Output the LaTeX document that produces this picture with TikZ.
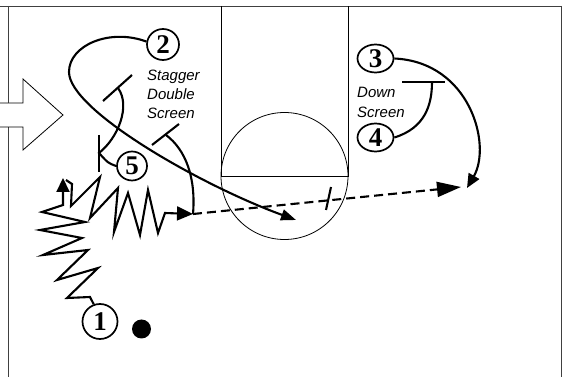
\documentclass[tikz,border=0pt]{standalone}
\usepackage{fontspec}
\setmainfont{Liberation Serif}
\setsansfont{Liberation Sans}
\usetikzlibrary{arrows.meta,shapes.geometric}
\begin{document}
\begin{tikzpicture}[x=1pt,y=-1pt,
  court/.style={line width=0.9pt, draw=black!75},
  thin/.style={line width=0.8pt, draw=black},
  player/.style={line width=2.1pt, draw=black},
  pass/.style={line width=2.1pt, draw=black, dash pattern=on 9pt off 5pt},
  num/.style={ellipse, draw=black, line width=1.7pt, fill=white, inner sep=0pt,
    font=\bfseries\fontsize{27}{27}\selectfont},
  lbl/.style={anchor=base west, inner sep=0pt, font=\sffamily\itshape\fontsize{15}{15}\selectfont},
  tipS/.style={-{Triangle[length=15pt,width=11pt]}},
]
\useasboundingbox (0,0) rectangle (566,377);
% court
\draw[court] (0,6) -- (561,6);
\draw[court] (8,6) -- (8,377);
\draw[court] (561,6) -- (561,377);
\draw[thin] (221,6) -- (221,176) -- (348,176) -- (348,6);
\draw[thin] (284.5,176) circle[radius=63.5];
% entry arrow
\draw[line width=0.8pt, fill=white] (-2,103) -- (23,103) -- (23,79) -- (63,115) -- (23,150) -- (23,127) -- (-2,127);
% coordinates
\coordinate (p2end) at (296,220);
\coordinate (s1a) at (103,101);
\coordinate (s1c) at (132,75);
\coordinate (s1b) at (118,88);
\coordinate (vb1) at (99,135);
\coordinate (vb2) at (99,172);
\coordinate (s2a) at (152,145);
\coordinate (s2c) at (179,124);
\coordinate (s2b) at (166,135);
\coordinate (d1end) at (63,178);
\coordinate (d2start) at (66,180);
\coordinate (d2end) at (193,214);
\coordinate (passend) at (461,187);
\coordinate (tk1) at (326,210);
\coordinate (tk2) at (331,187);
\coordinate (p3end) at (467,188);
\coordinate (s3a) at (402,82);
\coordinate (s3c) at (445,82);
\coordinate (s3b) at (432,82);
% players
\node[num, minimum width=35pt, minimum height=35pt] (c1) at (100,321.5) {1};
\node[num, minimum width=32pt, minimum height=31pt] (c2) at (163,44.5) {2};
\node[num, minimum width=36pt, minimum height=28pt] (c3) at (375.5,58.5) {3};
\node[num, minimum width=36pt, minimum height=28pt] (c4) at (375.5,137.5) {4};
\node[num, minimum width=30pt, minimum height=29pt] (c5) at (132,166) {5};
\node[circle, fill=black, minimum size=19pt, inner sep=0pt] (ball) at (141.5,329) {};
% labels
\node[lbl] (t1) at (147,80.5) {Stagger};
\node[lbl] (t2) at (147,99.5) {Double};
\node[lbl] (t3) at (147,118.5) {Screen};
\node[lbl] (t4) at (357,98) {Down};
\node[lbl] (t5) at (357,117.5) {Screen};
% player 2 cut
\draw[player, tipS] (c2.170) .. controls (110,28) and (69,45) .. (69,72)
   .. controls (69,110) and (200,185) .. (p2end);
% player 5 screens
\draw[player] (vb1) -- (vb2);
\draw[player] (s1a) -- (s1c);
\draw[player] (c5.west) .. controls (108,163) .. (99,153)
   .. controls (118,138) and (131,106) .. (s1b);
% second stagger screen
\draw[player] (s2a) -- (s2c);
\draw[player] (d2end) .. controls (196,178) and (186,150) .. (s2b);
% dribbles
\draw[player, -{Triangle[length=14pt,width=13pt]}] (c1.110) -- (90,297) -- (67,298) -- (98,268) -- (57,280)
  -- (88,250) -- (43,255) -- (82,238) -- (40,230) -- (85,222) -- (42,212) -- (63,205) -- (d1end);
\draw[player, -{Triangle[length=16pt,width=14pt]}] (d2start) -- (72,184) -- (71,206) -- (100,177) -- (90,218)
  -- (118,188) -- (114,232) -- (128,193) -- (140,235) -- (148,190) -- (158,233) -- (165,213) -- (d2end);
% pass
\draw[pass, -{Triangle[length=24pt,width=15pt]}] (d2end) -- (passend);
\draw[player] (tk1) -- (tk2);
% player 3 and 4
\draw[player, -{Triangle[length=14pt,width=12pt]}] (c3.east) .. controls (470,62) and (492,145) .. (p3end);
\draw[player] (s3a) -- (s3c);
\draw[player] (c4.east) .. controls (425,128) and (432,105) .. (s3b);
\end{tikzpicture}
\end{document}
